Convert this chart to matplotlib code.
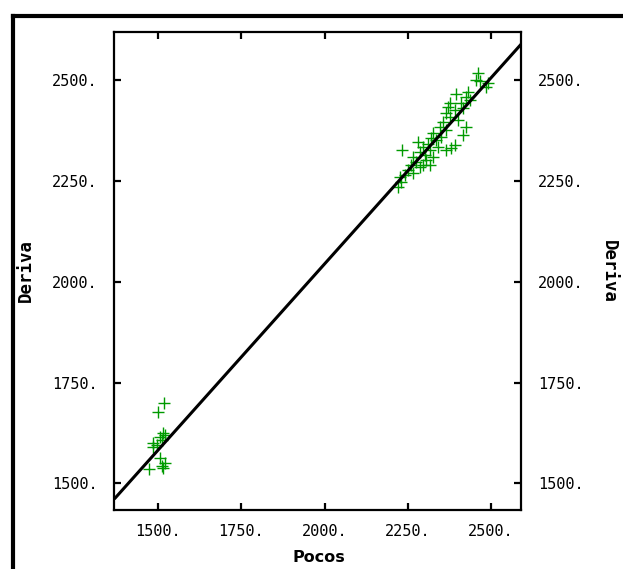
import matplotlib
matplotlib.use("Agg")
import matplotlib.pyplot as plt
from matplotlib.lines import Line2D

# ---- data ----
pocos = [1516, 1500, 1515, 1505, 1485, 1495, 1510, 1520, 1505, 1520, 1510, 1473, 1513, 1485,
         2461, 2456, 2466, 2486, 2491, 2394, 2431, 2426, 2436, 2376, 2371, 2411, 2416, 2391,
         2366, 2376, 2401, 2426, 2416, 2356, 2346, 2366, 2326, 2321, 2336, 2351, 2311, 2281,
         2296, 2316, 2341, 2366, 2391, 2381, 2286, 2301, 2266, 2326, 2234, 2276, 2261, 2296,
         2316, 2251, 2266, 2241, 2226, 2221, 2231, 2286, 2306]
deriva = [1698, 1678, 1624, 1616, 1599, 1595, 1607, 1620, 1562, 1550, 1543, 1535, 1538, 1591,
          2519, 2501, 2499, 2484, 2492, 2467, 2472, 2459, 2451, 2443, 2434, 2443, 2430, 2426,
          2418, 2410, 2401, 2385, 2364, 2397, 2385, 2377, 2368, 2356, 2352, 2360, 2343, 2348,
          2335, 2327, 2335, 2327, 2339, 2331, 2323, 2315, 2310, 2310, 2327, 2298, 2290, 2290,
          2290, 2277, 2269, 2265, 2261, 2236, 2248, 2286, 2302]
fit_x = [1368, 2591]
fit_y = [1461, 2590]
ticks_x = [1500, 1750, 2000, 2250, 2500]
ticks_y = [1500, 1750, 2000, 2250, 2500]
tick_labels_x = ["1500.", "1750.", "2000.", "2250.", "2500."]
tick_labels_y = ["1500.", "1750.", "2000.", "2250.", "2500."]
xlim = (1368, 2591)
ylim = (1433, 2619)

W, H = 623, 569
fig = plt.figure(figsize=(W / 100, H / 100), dpi=100)
fig.patch.set_facecolor("white")

# outer frame (top and left edges visible)
fig.add_artist(Line2D([13 / W, 1.0], [1 - 16 / H, 1 - 16 / H], color="black", lw=3, transform=fig.transFigure))
fig.add_artist(Line2D([13 / W, 13 / W], [0.0, 1 - 16 / H], color="black", lw=3, transform=fig.transFigure))

ax = fig.add_axes([114.3 / W, 1 - 510.3 / H, (521.3 - 114.3) / W, (510.3 - 32.3) / H])
ax.plot(pocos, deriva, linestyle="none", marker="+", markersize=8, markeredgewidth=1,
        color="#009a00", zorder=2)
ax.plot(fit_x, fit_y, color="black", lw=2.2, zorder=3, solid_capstyle="butt")
ax.set_xlim(*xlim)
ax.set_ylim(*ylim)

mono = "DejaVu Sans Mono"
ax.set_xticks(ticks_x)
ax.set_xticklabels(tick_labels_x, fontfamily=mono, fontsize=11)
ax.set_yticks(ticks_y)
ax.set_yticklabels(tick_labels_y, fontfamily=mono, fontsize=11)
ax.tick_params(axis="both", direction="in", length=5, width=1.6, top=True, right=True,
               labelright=True, color="black")
ax.tick_params(axis="x", pad=10)
ax.tick_params(axis="y", pad=12)
for s in ax.spines.values():
    s.set_linewidth(1.6)

fig.text(318.5 / W, 1 - 557 / H, "Pocos", ha="center", va="center",
         fontfamily="DejaVu Sans", fontweight="bold", fontsize=11.5)
fig.text(26 / W, 1 - 271 / H, "Deriva", ha="center", va="center", rotation=90,
         fontfamily=mono, fontweight="bold", fontsize=12.5)
fig.text(609 / W, 1 - 271 / H, "Deriva", ha="center", va="center", rotation=-90,
         fontfamily=mono, fontweight="bold", fontsize=12.5)

fig.savefig("out.png", dpi=100)
